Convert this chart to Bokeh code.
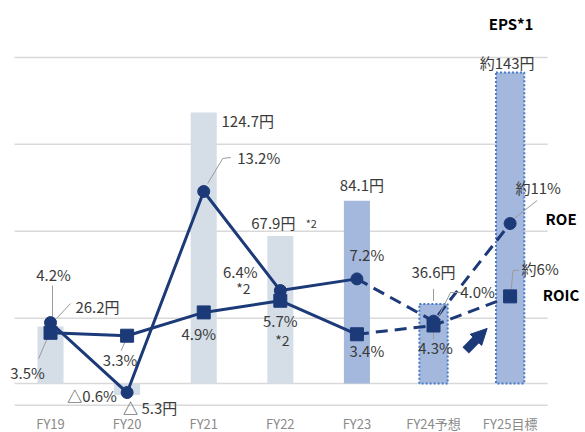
from bokeh.plotting import figure
from bokeh.models import Range1d, ColumnDataSource, Arrow, NormalHead
from bokeh.core.properties import value
from bokeh.embed import file_html
from bokeh.resources import INLINE

# ---------------- data ----------------
categories = ["FY19", "FY20", "FY21", "FY22", "FY23", "FY24予想", "FY25目標"]
eps = [26.2, -5.3, 124.7, 67.9, 84.1, 36.6, 143.0]
roe = [4.2, -0.6, 13.2, 6.4, 7.2, 4.3, 11.0]
roic = [3.5, 3.3, 4.9, 5.7, 3.4, 4.0, 6.0]
eps_labels = ["26.2円", "△ 5.3円", "124.7円", "67.9円", "84.1円", "36.6円", "約143円"]
roe_labels = ["4.2%", "△0.6%", "13.2%", "6.4%", "7.2%", "4.3%", "約11%"]
roic_labels = ["3.5%", "3.3%", "4.9%", "5.7%", "3.4%", "4.0%", "約6%"]
grid_yen = [-10, 30, 70, 110, 150]
n_actual = 5  # FY19..FY23 actual, FY24/FY25 plan

# ---------------- style ----------------
NAVY = "#1c3a78"
LIGHT_BAR = "#d5dee7"
MID_BAR = "#a4b8dd"
DOT_BORDER = "#4a7bc8"
LABEL_C = "#3a3a3a"
GRID_C = "#d9d9d9"
FONT = value("Noto Sans CJK JP")
LSIZE = "15px"

W, H = 585, 432
XR = (-0.653, 6.984)
YR = (-22.54, 176.17)      # yen
PR = (-3.343, 26.307)      # percent
PX_X = W / (XR[1] - XR[0])
PX_YEN = H / (YR[1] - YR[0])
PX_PCT = H / (PR[1] - PR[0])

p = figure(width=W, height=H, x_range=Range1d(*XR), y_range=Range1d(*YR),
           output_backend="svg", toolbar_location=None, min_border=0,
           x_axis_location=None, y_axis_location=None)
p.extra_y_ranges = {"pct": Range1d(*PR)}
p.grid.visible = False
p.outline_line_color = None
p.background_fill_color = "white"

xs = list(range(len(categories)))

# gridlines + zero baseline
p.segment(x0=[-0.47] * len(grid_yen), x1=[6.49] * len(grid_yen), y0=grid_yen, y1=grid_yen,
          line_color=GRID_C, line_width=1.5)
p.segment(x0=[-0.47], x1=[6.49], y0=[0], y1=[0], line_color=GRID_C, line_width=1.5)

# bars
bar_fill = [LIGHT_BAR] * 4 + [MID_BAR] * 3
p.vbar(x=xs[:5], top=eps[:5], bottom=0, width=0.34,
       fill_color=bar_fill[:5], line_color=None)
p.vbar(x=xs[5:], top=eps[5:], bottom=0, width=0.37,
       fill_color=bar_fill[5:], line_color=DOT_BORDER, line_width=2, line_dash="2 2")

# lines
p.line(xs[:n_actual], roe[:n_actual], y_range_name="pct", line_color=NAVY, line_width=3)
p.line(xs[:n_actual], roic[:n_actual], y_range_name="pct", line_color=NAVY, line_width=3)
p.line(xs[n_actual - 1:], roe[n_actual - 1:], y_range_name="pct", line_color=NAVY,
       line_width=3, line_dash="12 7")
p.line(xs[n_actual - 1:], roic[n_actual - 1:], y_range_name="pct", line_color=NAVY,
       line_width=3, line_dash="12 7")

# leader lines (pixel offsets from the data point)
def leaders(series, rng, px_y, specs):
    mx, my = [], []
    for i, pts in specs:
        mx.append([xs[i] + dx / PX_X for dx, dy in pts])
        my.append([series[i] - dy / px_y for dx, dy in pts])
    kw = {} if rng is None else {"y_range_name": rng}
    p.multi_line(mx, my, line_color="#9a9a9a", line_width=1, **kw)

leaders(roe, "pct", PX_PCT, [(0, [(2, -6), (2, -37)]),
                             (2, [(4, -8), (19, -33), (27, -34)]),
                             (5, [(0, 5), (0, 18)]),
                             (6, [(4, -5), (27, -23)])])
leaders(roic, "pct", PX_PCT, [(0, [(-3, 5), (-12, 26)]),
                              (1, [(-2, 6), (-6, 15)]),
                              (5, [(2, -3), (17, -33), (29, -33)]),
                              (6, [(1, -6), (3, -26), (9, -26)])])
leaders(eps, None, PX_YEN, [(0, [(6, -8), (20, -23)]),
                            (5, [(0, -3), (0, -15)])])

# markers
p.scatter(xs, roe, y_range_name="pct", marker="circle", size=12,
          fill_color=NAVY, line_color=NAVY)
p.scatter(xs, roic, y_range_name="pct", marker="square", size=13,
          fill_color=NAVY, line_color=NAVY)

# arrow
p.add_layout(Arrow(x_start=5.42, y_start=2.3, x_end=5.70, y_end=3.8, y_range_name="pct",
                   line_color=NAVY, line_width=9,
                   end=NormalHead(size=16, fill_color=NAVY, line_color=NAVY)))

# data labels
def labels(series, texts, offs, rng, size=LSIZE, color=LABEL_C, style="normal"):
    src = ColumnDataSource(dict(x=xs, y=series, t=texts,
                                dx=[o[0] for o in offs], dy=[o[1] for o in offs]))
    kw = {} if rng is None else {"y_range_name": rng}
    p.text(x="x", y="y", text="t", x_offset="dx", y_offset="dy", source=src,
           text_align="center", text_baseline="middle", text_font=FONT,
           text_font_size=size, text_color=color, text_font_style=style, **kw)

labels(roe, roe_labels, [(3, -48), (-35, 3), (55, -34), (-40, -19), (10, -24), (2, 26), (28, -36)], "pct")
labels(roic, roic_labels, [(-23, 40), (-7, 24), (-5, 21), (0, 20), (10, 16), (44, -34), (30, -28)], "pct")
labels(eps, eps_labels, [(47, -20), (23, 12), (44, 8), (-7, -13), (5, -16), (0, -32), (-3, -10)], None)

# footnote marks "*2"
p.text(x=[xs[3]], y=[roe[3]], text=["*2"], x_offset=[-37], y_offset=[-3], y_range_name="pct",
       text_align="center", text_baseline="middle", text_font=FONT, text_font_size="14px",
       text_color=LABEL_C)
p.text(x=[xs[3]], y=[roic[3]], text=["*2"], x_offset=[2], y_offset=[39], y_range_name="pct",
       text_align="center", text_baseline="middle", text_font=FONT, text_font_size="14px",
       text_color=LABEL_C)
p.text(x=[xs[3]], y=[eps[3]], text=["*2"], x_offset=[31], y_offset=[-13],
       text_align="center", text_baseline="middle", text_font=FONT, text_font_size="11px",
       text_color=LABEL_C)

# series names
p.text(x=[xs[6]], y=[eps[6]], text=["EPS*1"], x_offset=[1], y_offset=[-49],
       text_align="center", text_baseline="middle", text_font=FONT, text_font_size="15px",
       text_color="black", text_font_style="bold")
p.text(x=[xs[6]], y=[roe[6]], text=["ROE"], x_offset=[51], y_offset=[-5], y_range_name="pct",
       text_align="center", text_baseline="middle", text_font=FONT, text_font_size="15px",
       text_color="black", text_font_style="bold")
p.text(x=[xs[6]], y=[roic[6]], text=["ROIC"], x_offset=[51], y_offset=[-2], y_range_name="pct",
       text_align="center", text_baseline="middle", text_font=FONT, text_font_size="15px",
       text_color="black", text_font_style="bold")

# category labels
p.text(x=xs, y=[YR[0]] * len(xs), text=categories, y_offset=[-9] * len(xs),
       text_align="center", text_baseline="middle", text_font=FONT,
       text_font_size="13px", text_color="#8a8a8a")

open("out.html", "w").write(file_html(p, INLINE))
